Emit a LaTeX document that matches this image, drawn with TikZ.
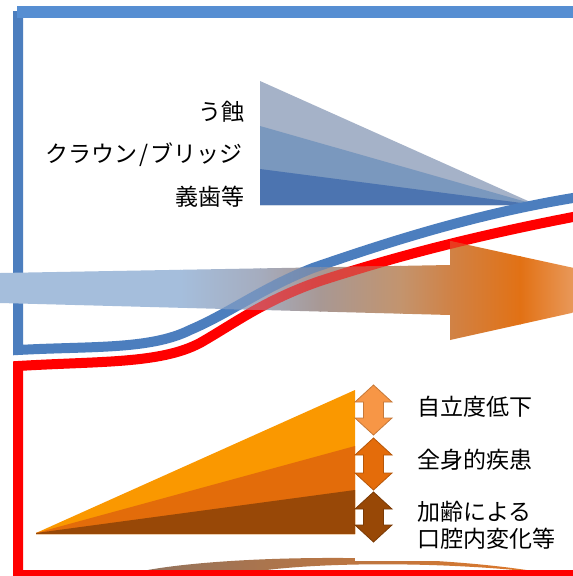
\documentclass[tikz,border=0pt]{standalone}
\usepackage{fontspec}
\setmainfont{Noto Sans CJK JP}

\definecolor{frameblue}{RGB}{86,142,210}
\definecolor{lineblue}{RGB}{76,126,190}
\definecolor{linered}{RGB}{255,0,0}
\definecolor{toothA}{RGB}{165,178,200}
\definecolor{toothB}{RGB}{122,152,190}
\definecolor{toothC}{RGB}{76,116,176}
\definecolor{ageA}{RGB}{250,152,0}
\definecolor{ageB}{RGB}{227,108,10}
\definecolor{ageC}{RGB}{152,72,7}
\definecolor{updownA}{RGB}{247,150,70}
\definecolor{updownB}{RGB}{228,108,10}
\definecolor{updownC}{RGB}{152,72,6}
\definecolor{arcL}{RGB}{145,115,95}
\definecolor{arcR}{RGB}{225,120,40}
\definecolor{gA}{RGB}{165,190,220}
\definecolor{gB}{RGB}{165,172,190}
\definecolor{gC}{RGB}{168,152,148}
\definecolor{gD}{RGB}{195,148,110}
\definecolor{gE}{RGB}{208,130,70}
\definecolor{gF}{RGB}{226,113,20}
\definecolor{gG}{RGB}{233,158,100}

\newcommand{\bluecurve}{(590,195) -- (573,198) .. controls (470,215) and (380,245) .. (313,268) .. controls (262,288) and (230,313) .. (190,330) .. controls (150,350) and (90,346) .. (18,350)}
\newcommand{\redcurve}{(590,214) -- (573,217) .. controls (480,235) and (400,255) .. (320,281) .. controls (265,300) and (235,323) .. (200,343) .. controls (160,364) and (100,361) .. (18,366)}
\newcommand{\trendarrow}{(0,273) -- (450,265) -- (450,241) -- (675,290) -- (450,340) -- (450,315) -- (0,303) -- cycle}

\begin{document}
\begin{tikzpicture}[x=1pt, y=-1pt, txt/.style={inner sep=0pt, font=\fontsize{23}{27}\selectfont}]
\clip (0,0) rectangle (573,576);
\fill[white] (0,0) rectangle (573,576);

% tooth wedges
\fill[toothA] (260,81) -- (537,205) -- (260,205) -- cycle;
\fill[toothB] (260,126) -- (537,205) -- (260,205) -- cycle;
\fill[toothC] (260,169) -- (537,205) -- (260,205) -- cycle;

% age wedges
\fill[ageA] (36,533) -- (355,390) -- (355,534) -- (36,534) -- cycle;
\fill[ageB] (36,533) -- (355,446) -- (355,534) -- (36,534) -- cycle;
\fill[ageC] (36,533) -- (355,490) -- (355,534) -- (36,534) -- cycle;

% arc at the bottom
\shade[left color=arcL, right color=arcR] (133,573) .. controls (210,555) and (420,551) .. (545,573) .. controls (430,560) and (290,562) .. (230,576) -- cycle;
\fill[white] (355,540) rectangle (573,561);

% frame lines
\draw[lineblue, line width=10pt] \bluecurve -- (18,11);
\draw[frameblue, line width=12pt] (17,11.5) -- (580,11.5);
\draw[linered, line width=10pt] \redcurve -- (18,575) -- (580,575);

% big arrow
\begin{scope}
\clip \trendarrow;
\foreach \xa/\xb/\ca/\cb in {0/180/gA/gA, 180/260/gA/gB, 260/320/gB/gC, 320/400/gC/gD, 400/450/gD/gE, 450/520/gE/gF, 520/580/gF/gG} {
  \shade[left color=\ca, right color=\cb] (\xa,230) rectangle (\xb+1,350);
}
\draw[lineblue, line width=10pt, opacity=.55] \bluecurve;
\draw[linered, line width=10pt, opacity=.55] \redcurve;
\end{scope}

% up-down arrows
\foreach \ya/\yb/\col in {385/435/updownA, 438/490/updownB, 492/542/updownC} {
  \filldraw[fill=\col, draw=\col!80!black, line width=.8pt] (373.5,\ya) -- (392,\ya+17) -- (383.5,\ya+17) -- (383.5,\yb-17) -- (392,\yb-17) -- (373.5,\yb) -- (355,\yb-17) -- (363.5,\yb-17) -- (363.5,\ya+17) -- (355,\ya+17) -- cycle;
}

\node[txt, anchor=east] (uc) at (245,112) {う蝕};
\node[txt, anchor=east] (crown) at (243,155) {クラウン\kern2pt/\kern2ptブリッジ};
\node[txt, anchor=east] (denture) at (245,197) {義歯等};
\node[txt, anchor=west] (jiritsu) at (417,407) {自立度低下};
\node[txt, anchor=west] (zenshin) at (417,460) {全身的疾患};
\node[txt, anchor=west, align=left] (karei) at (417,525) {加齢による\\口腔内変化等};
\end{tikzpicture}
\end{document}
